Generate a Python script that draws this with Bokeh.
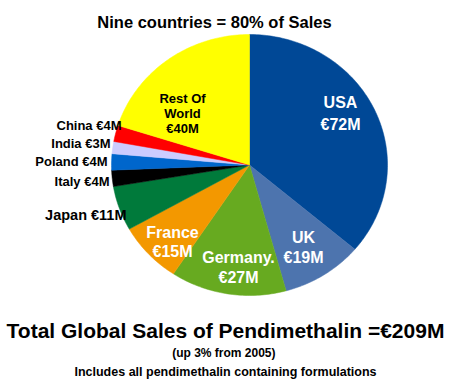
import numpy as np
from bokeh.plotting import figure
from bokeh.models import Range1d
from bokeh.core.properties import value
from bokeh.embed import file_html
from bokeh.resources import INLINE

# ---- data (clockwise from 12 o'clock) ----
countries = ["USA", "UK", "Germany", "France", "Japan", "Italy", "Poland", "India", "China", "Rest Of World"]
sales = [72, 19, 27, 15, 11, 4, 4, 3, 4, 40]
slice_labels = [["USA", "€72M"], ["UK", "€19M"], ["Germany.", "€27M"], ["France", "€15M"],
                ["Japan €11M"], ["Italy €4M"], ["Poland €4M"], ["India €3M"], ["China €4M"],
                ["Rest Of", "World", "€40M"]]
title_text = "Nine countries = 80% of Sales"
footer_lines = ["Total Global Sales of Pendimethalin =€209M", "(up 3%  from 2005)",
                "Includes all pendimethalin containing formulations"]

# ---- styles / layout ----
colors = ["#004896", "#4d74ae", "#67aa20", "#f39800", "#007a3b", "#000000",
          "#0066cc", "#ccccff", "#ff0000", "#ffff00"]
label_colors = ["white", "white", "white", "white", "black", "black", "black", "black", "black", "black"]
label_sizes = ["16px", "16px", "16px", "16px", "14.5px", "13px", "13px", "13px", "13px", "13px"]
label_align = ["center", "center", "center", "center", "right", "right", "right", "right", "right", "center"]
label_pos = [  # (x, first line y, line step) in picture-pixel coordinates
    (340, 102, 22), (303, 237, 20), (238, 257, 20), (172, 232, 19),
    (126, 214, 0), (109, 181, 0), (107, 161, 0), (110, 143, 0), (121, 125, 0),
    (182, 98, 15)]
cx, cy, rx, ry = 249, 164.5, 138, 130.5
FONT = value("Liberation Sans")
W, H = 451, 387

p = figure(width=W, height=H, output_backend="svg", toolbar_location=None,
           x_range=Range1d(0, W), y_range=Range1d(H, 0), min_border=0)
p.axis.visible = False
p.grid.visible = False
p.outline_line_color = None
p.background_fill_color = "white"
p.border_fill_color = "white"

# ---- pie wedges from the values ----
vals = np.array(sales, dtype=float)
cum = np.concatenate([[0], np.cumsum(vals)]) / vals.sum() * 2 * np.pi
xs, ys = [], []
for a0, a1 in zip(cum[:-1], cum[1:]):
    n = max(3, int(np.ceil((a1 - a0) / (2 * np.pi) * 360)))
    t = np.linspace(a0, a1, n)
    xs.append(list(np.concatenate([[cx], cx + rx * np.sin(t)])))
    ys.append(list(np.concatenate([[cy], cy - ry * np.cos(t)])))
p.patches(xs=xs, ys=ys, fill_color=colors, line_color=colors, line_width=0.5)

# ---- slice labels ----
for lines, (lx, ly, step), col, size, al in zip(slice_labels, label_pos, label_colors, label_sizes, label_align):
    for k, line in enumerate(lines):
        p.text(x=[lx], y=[ly + k * step], text=[line], text_font=FONT, text_font_style="bold",
               text_font_size=size, text_color=col, text_align=al, text_baseline="middle")

# ---- title and footer ----
p.text(x=[214], y=[21], text=[title_text], text_font=FONT, text_font_style="bold",
       text_font_size="16.5px", text_color="black", text_align="center", text_baseline="middle")
for line, y, size in zip(footer_lines, [330, 352, 371], ["21px", "12px", "12.5px"]):
    p.text(x=[225], y=[y], text=[line], text_font=FONT, text_font_style="bold",
           text_font_size=size, text_color="black", text_align="center", text_baseline="middle")

open("out.html", "w").write(file_html(p, INLINE))
